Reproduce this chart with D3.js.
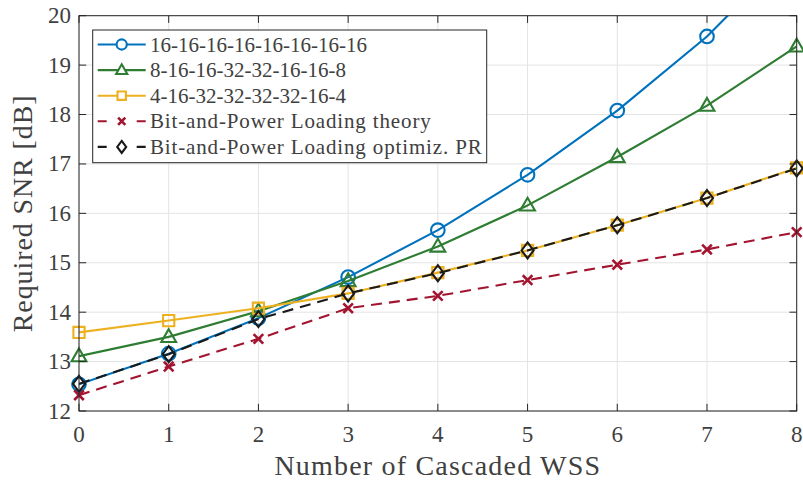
<!DOCTYPE html>
<html><head><meta charset="utf-8">
<script src="https://cdn.jsdelivr.net/npm/d3@7"></script>
<style>
html,body{margin:0;padding:0;background:#fff;}
svg{display:block;font-family:"Liberation Serif","Times New Roman",serif;}
</style></head>
<body><svg id="c" width="803" height="483"></svg>
<script>
const xValues = [0, 1, 2, 3, 4, 5, 6, 7, 8];
const seriesNames = [
  "16-16-16-16-16-16-16-16",
  "8-16-16-32-32-16-16-8",
  "4-16-32-32-32-32-16-4",
  "Bit-and-Power Loading theory",
  "Bit-and-Power Loading optimiz. PR"
];
const blueValues   = [12.54, 13.16, 13.88, 14.71, 15.66, 16.78, 18.08, 19.58, 21.40];
const greenValues  = [13.11, 13.50, 14.02, 14.63, 15.33, 16.16, 17.14, 18.18, 19.38];
const orangeValues = [13.59, 13.83, 14.08, 14.38, 14.80, 15.25, 15.76, 16.31, 16.92];
const redValues    = [12.32, 12.90, 13.46, 14.08, 14.33, 14.65, 14.96, 15.27, 15.62];
const blackValues  = [12.55, 13.15, 13.86, 14.38, 14.79, 15.25, 15.76, 16.31, 16.91];
const xTicks = [0, 1, 2, 3, 4, 5, 6, 7, 8];
const yTicks = [12, 13, 14, 15, 16, 17, 18, 19, 20];
const xLabel = "Number of Cascaded WSS";
const yLabel = "Required SNR [dB]";

const styles = [
  {color:"#0072BD", dash:null, marker:"circle"},
  {color:"#2E7D32", dash:null, marker:"triangle"},
  {color:"#EDB120", dash:null, marker:"square"},
  {color:"#A2142F", dash:"11,7", marker:"x"},
  {color:"#1a1a1a", dash:"11,7", marker:"diamond"}
];
const allValues = [blueValues, greenValues, orangeValues, redValues, blackValues];

const L = 79, R = 796.7, T = 15.7, B = 411;
const svg = d3.select("#c");
const x = d3.scaleLinear().domain([0, 8]).range([L, R]);
const y = d3.scaleLinear().domain([12, 20]).range([B, T]);
const axisColor = "#262626", textColor = "#404040";

// grid
const g = svg.append("g");
g.selectAll(".gx").data(xTicks).join("line")
  .attr("x1", d => x(d)).attr("x2", d => x(d)).attr("y1", T).attr("y2", B)
  .attr("stroke", "#e3e3e3").attr("stroke-width", 1);
g.selectAll(".gy").data(yTicks).join("line")
  .attr("y1", d => y(d)).attr("y2", d => y(d)).attr("x1", L).attr("x2", R)
  .attr("stroke", "#e3e3e3").attr("stroke-width", 1);

// clip
svg.append("clipPath").attr("id", "clip").append("rect")
  .attr("x", L).attr("y", T).attr("width", R - L).attr("height", B - T);

function markerPath(type, s) {
  const p = d3.path();
  if (type === "circle") { const r = 6.8*s; p.moveTo(r,0); p.arc(0,0,r,0,2*Math.PI); }
  else if (type === "triangle") { const w = 7.4*s, h = 12.8*s; p.moveTo(0,-h*0.6); p.lineTo(w,h*0.4); p.lineTo(-w,h*0.4); p.closePath(); }
  else if (type === "square") { const a = 5.6*s; p.rect(-a,-a,2*a,2*a); }
  else if (type === "x") { const a = 4.8*s; p.moveTo(-a,-a); p.lineTo(a,a); p.moveTo(a,-a); p.lineTo(-a,a); }
  else if (type === "diamond") { const w = 6*s, h = 8*s; p.moveTo(0,-h); p.lineTo(w,0); p.lineTo(0,h); p.lineTo(-w,0); p.closePath(); }
  return p.toString();
}

const plot = svg.append("g").attr("clip-path", "url(#clip)");
const marks = svg.append("g");
const line = d3.line().x((d,i) => x(xValues[i])).y(d => y(d));
allValues.forEach((vals, k) => {
  const st = styles[k];
  const grp = svg.append("g");
  grp.append("path").datum(vals).attr("d", line).attr("clip-path", "url(#clip)")
    .attr("fill", "none").attr("stroke", st.color).attr("stroke-width", 2.1)
    .attr("stroke-dasharray", st.dash).attr("stroke-linejoin", "round");
  const pts = vals.map((v,i) => ({xv: xValues[i], v})).filter(d => d.v <= 20 && d.v >= 12);
  grp.selectAll(null).data(pts).join("path")
    .attr("transform", d => `translate(${x(d.xv)},${y(d.v)})`)
    .attr("d", markerPath(st.marker, 1))
    .attr("fill", "none").attr("stroke", st.color)
    .attr("stroke-width", st.marker === "x" ? 2.6 : 2.1);
});

// axes box
const ax = svg.append("g");
ax.append("rect").attr("x", L).attr("y", T).attr("width", R - L).attr("height", B - T)
  .attr("fill", "none").attr("stroke", axisColor).attr("stroke-width", 1);
const tl = 7.2;
xTicks.forEach(t => {
  ax.append("line").attr("x1", x(t)).attr("x2", x(t)).attr("y1", B).attr("y2", B - tl).attr("stroke", axisColor);
  ax.append("line").attr("x1", x(t)).attr("x2", x(t)).attr("y1", T).attr("y2", T + tl).attr("stroke", axisColor);
});
yTicks.forEach(t => {
  ax.append("line").attr("y1", y(t)).attr("y2", y(t)).attr("x1", L).attr("x2", L + tl).attr("stroke", axisColor);
  ax.append("line").attr("y1", y(t)).attr("y2", y(t)).attr("x1", R).attr("x2", R - tl).attr("stroke", axisColor);
});
ax.selectAll(".xt").data(xTicks).join("text")
  .attr("x", d => x(d)).attr("y", 442).attr("text-anchor", "middle")
  .attr("font-size", 23).attr("fill", textColor).text(d => d);
ax.selectAll(".yt").data(yTicks).join("text")
  .attr("x", 71).attr("y", d => y(d) + 7.5).attr("text-anchor", "end")
  .attr("font-size", 23).attr("fill", textColor).text(d => d);
svg.append("text").attr("x", (L + R) / 2).attr("y", 475).attr("text-anchor", "middle")
  .attr("font-size", 28).attr("letter-spacing", 1.2).attr("fill", textColor).text(xLabel);
svg.append("text").attr("transform", `translate(32,${(T + B) / 2}) rotate(-90)`)
  .attr("text-anchor", "middle").attr("font-size", 28).attr("letter-spacing", 0.9)
  .attr("fill", textColor).text(yLabel);

// legend
const lg = svg.append("g");
lg.append("rect").attr("x", 92.7).attr("y", 30).attr("width", 394).attr("height", 132.7)
  .attr("fill", "#fff").attr("stroke", axisColor).attr("stroke-width", 1);
seriesNames.forEach((name, k) => {
  const st = styles[k];
  const cy = 44.5 + k * 25.6;
  lg.append("line").attr("x1", 97.7).attr("x2", 145.7).attr("y1", cy).attr("y2", cy)
    .attr("stroke", st.color).attr("stroke-width", 2.1)
    .attr("stroke-dasharray", st.dash ? "9,30" : null);
  lg.append("path").attr("transform", `translate(121.7,${cy})`)
    .attr("d", markerPath(st.marker, 0.75))
    .attr("fill", st.marker === "x" ? "none" : "#fff").attr("stroke", st.color)
    .attr("stroke-width", st.marker === "x" ? 2.6 : 2.1);
  lg.append("text").attr("x", 150).attr("y", cy + 7)
    .attr("font-size", 21).attr("fill", textColor)
    .attr("letter-spacing", /[a-z]/i.test(name) ? 0.85 : 0)
    .text(name);
});
</script></body></html>
